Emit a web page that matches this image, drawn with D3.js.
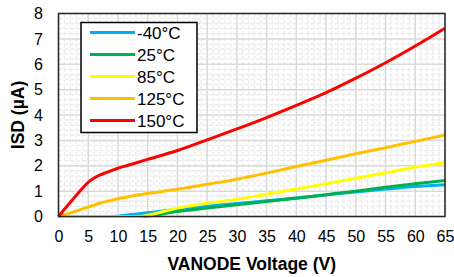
<!DOCTYPE html>
<html>
<head>
<meta charset="utf-8">
<script src="https://cdn.jsdelivr.net/npm/d3@7"></script>
<style>
  body { margin: 0; background: #fff; }
  text { font-family: "Liberation Sans", Arial, sans-serif; }
</style>
</head>
<body>
<div id="chart"></div>
<script>
// values
var voltage = [0, 2.5, 4, 5, 6, 7, 8, 10, 12, 14, 15, 20, 25, 30, 35, 40, 45, 50, 55, 60, 65];
var iNeg40 = [0, 0, 0, 0, 0, 0, 0, 0.01, 0.07, 0.12, 0.15, 0.29, 0.4, 0.51, 0.62, 0.73, 0.85, 0.97, 1.08, 1.18, 1.25];
var i25    = [0, 0, 0, 0, 0, 0, 0, 0, 0, 0, 0.02, 0.2, 0.33, 0.46, 0.59, 0.72, 0.86, 1.0, 1.15, 1.29, 1.42];
var i85    = [0, 0, 0, 0, 0, 0, 0, 0, 0, 0.01, 0.05, 0.33, 0.52, 0.68, 0.88, 1.08, 1.29, 1.51, 1.72, 1.94, 2.13];
var i125   = [0, 0.18, 0.3, 0.37, 0.45, 0.53, 0.59, 0.7, 0.79, 0.87, 0.91, 1.07, 1.27, 1.47, 1.71, 1.97, 2.22, 2.47, 2.71, 2.96, 3.21];
var i150   = [0, 0.7, 1.1, 1.35, 1.52, 1.64, 1.73, 1.9, 2.04, 2.18, 2.25, 2.6, 3.02, 3.45, 3.9, 4.38, 4.88, 5.45, 6.06, 6.72, 7.42];
var seriesNames = ["-40°C", "25°C", "85°C", "125°C", "150°C"];
var seriesColors = ["#00b0f0", "#00b050", "#ffff00", "#ffc000", "#ff0000"];
var xTicks = [0, 5, 10, 15, 20, 25, 30, 35, 40, 45, 50, 55, 60, 65];
var yTicks = [0, 1, 2, 3, 4, 5, 6, 7, 8];

var seriesValues = [iNeg40, i25, i85, i125, i150];

var margin = {top: 13.5, right: 9, bottom: 60.5, left: 58.5},
    width = 454 - margin.left - margin.right,
    height = 277 - margin.top - margin.bottom;

var svg = d3.select("#chart")
    .append("svg")
    .attr("width", 454)
    .attr("height", 277)
  .append("g")
    .attr("transform", "translate(" + margin.left + "," + margin.top + ")");

var x = d3.scaleLinear().domain([0, 65]).range([0, width]);
var y = d3.scaleLinear().domain([0, 8]).range([height, 0]);

// minor grid
svg.append("g")
  .selectAll("line")
  .data(d3.range(0, 65.01, 1).filter(function(d) { return d % 5 !== 0; }))
  .enter().append("line")
    .attr("x1", function(d) { return x(d); })
    .attr("x2", function(d) { return x(d); })
    .attr("y1", 0).attr("y2", height)
    .style("stroke", "#ededed")
    .style("stroke-width", 1.5)
    .style("stroke-dasharray", "4,2");
svg.append("g")
  .selectAll("line")
  .data(d3.range(0, 40.01, 1).filter(function(d) { return d % 5 !== 0; }).map(function(d) { return d / 5; }))
  .enter().append("line")
    .attr("x1", 0).attr("x2", width)
    .attr("y1", function(d) { return y(d); })
    .attr("y2", function(d) { return y(d); })
    .style("stroke", "#ededed")
    .style("stroke-width", 1.5)
    .style("stroke-dasharray", "4,2");

// major grid
svg.append("g")
  .selectAll("line")
  .data(xTicks)
  .enter().append("line")
    .attr("x1", function(d) { return x(d); })
    .attr("x2", function(d) { return x(d); })
    .attr("y1", 0).attr("y2", height)
    .style("stroke", "#d9d9d9")
    .style("stroke-width", 1.5);
svg.append("g")
  .selectAll("line")
  .data(yTicks)
  .enter().append("line")
    .attr("x1", 0).attr("x2", width)
    .attr("y1", function(d) { return y(d); })
    .attr("y2", function(d) { return y(d); })
    .style("stroke", "#d9d9d9")
    .style("stroke-width", 1.5);

// lines
var line = d3.line()
    .x(function(d, i) { return x(voltage[i]); })
    .y(function(d) { return y(d); })
    .curve(d3.curveMonotoneX);

seriesValues.forEach(function(vals, i) {
  svg.append("path")
    .datum(vals)
    .attr("d", line)
    .style("fill", "none")
    .style("stroke", seriesColors[i])
    .style("stroke-width", 3);
});

// plot border
svg.append("rect")
    .attr("x", 0).attr("y", 0)
    .attr("width", width).attr("height", height)
    .style("fill", "none")
    .style("stroke", "#262626")
    .style("stroke-width", 1.5);

// axes
var xAxis = svg.append("g")
    .attr("transform", "translate(0," + height + ")")
    .call(d3.axisBottom(x).tickValues(xTicks).tickSize(0).tickPadding(14));
var yAxis = svg.append("g")
    .call(d3.axisLeft(y).tickValues(yTicks).tickSize(0).tickPadding(15.5));
[xAxis, yAxis].forEach(function(a) {
  a.select(".domain").remove();
  a.selectAll("text")
    .style("font-family", "'Liberation Sans', Arial, sans-serif")
    .style("font-size", "16px")
    .style("fill", "#000");
});

// axis titles
svg.append("text")
    .attr("x", width / 2)
    .attr("y", height + 53)
    .attr("text-anchor", "middle")
    .style("font-size", "17.5px")
    .style("font-weight", "bold")
    .text("VANODE Voltage (V)");
svg.append("text")
    .attr("transform", "translate(" + (-35) + "," + (height / 2) + ") rotate(-90)")
    .attr("text-anchor", "middle")
    .style("font-size", "17.5px")
    .style("font-weight", "bold")
    .text("ISD (µA)");

// legend
var legend = svg.append("g")
    .attr("transform", "translate(" + (81 - margin.left) + "," + (22.5 - margin.top) + ")");
legend.append("rect")
    .attr("width", 116).attr("height", 110)
    .style("fill", "#fff")
    .style("stroke", "#000")
    .style("stroke-width", 1.5);
seriesNames.forEach(function(name, i) {
  var row = legend.append("g").attr("transform", "translate(0," + (10 + i * 22) + ")");
  row.append("line")
    .attr("x1", 9).attr("x2", 54)
    .attr("y1", 0).attr("y2", 0)
    .style("stroke", seriesColors[i])
    .style("stroke-width", 3);
  row.append("text")
    .attr("x", 56)
    .attr("y", 6)
    .style("font-size", "17px")
    .text(name);
});
</script>
</body>
</html>
